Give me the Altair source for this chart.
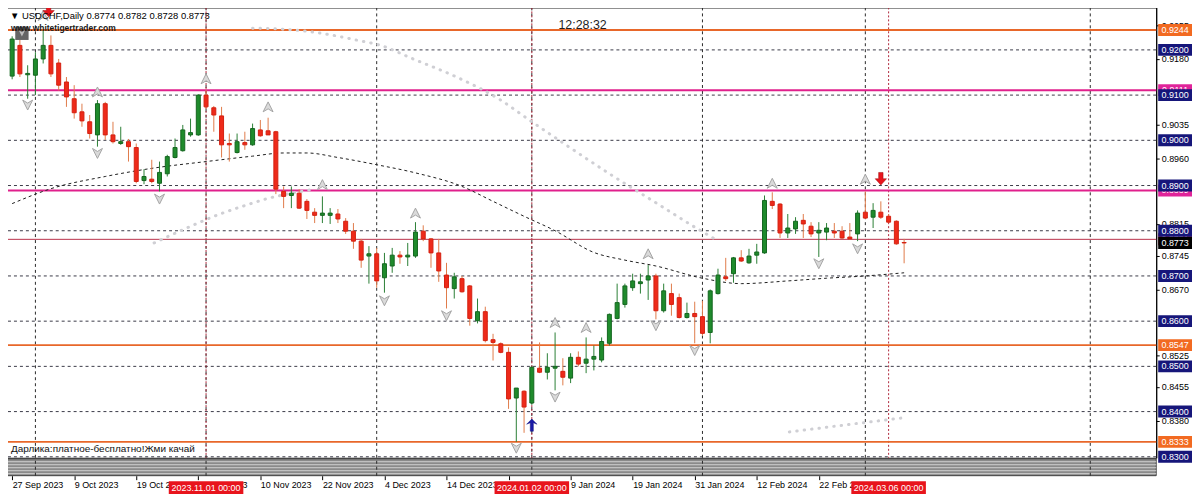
import altair as alt
import pandas as pd

# ------------------------------------------------------------------ data
header_text = "▼ USDCHF,Daily  0.8774 0.8782 0.8728 0.8773"
site_text = "www.whitetigertrader.com"
clock_text = "12:28:32"
promo_text = "Дарлика:платное-бесплатно!Жми качай"

opens = [0.9142, 0.9210, 0.9145, 0.9144, 0.9180, 0.9210, 0.9171, 0.9129, 0.9092, 0.9063,
         0.9041, 0.9012, 0.9081, 0.9012, 0.8993, 0.8997, 0.8984, 0.8911, 0.8914, 0.8905,
         0.8926, 0.8962, 0.8977, 0.9012, 0.9012, 0.9100, 0.9072, 0.9054, 0.8993, 0.8973,
         0.8995, 0.8990, 0.9023, 0.9021, 0.9019, 0.8887, 0.8878, 0.8883, 0.8865, 0.8841,
         0.8834, 0.8834, 0.8837, 0.8821, 0.8799, 0.8777, 0.8744, 0.8749, 0.8696, 0.8722,
         0.8746, 0.8742, 0.8744, 0.8799, 0.8782, 0.8751, 0.8702, 0.8672, 0.8694, 0.8678,
         0.8601, 0.8621, 0.8559, 0.8550, 0.8531, 0.8430, 0.8445, 0.8419, 0.8496, 0.8487,
         0.8496, 0.8489, 0.8474, 0.8520, 0.8507, 0.8516, 0.8514, 0.8551, 0.8606, 0.8637,
         0.8674, 0.8683, 0.8691, 0.8700, 0.8623, 0.8661, 0.8652, 0.8608, 0.8617, 0.8610,
         0.8575, 0.8661, 0.8698, 0.8705, 0.8740, 0.8729, 0.8746, 0.8751, 0.8865, 0.8859,
         0.8795, 0.8804, 0.8823, 0.8810, 0.8795, 0.8797, 0.8799, 0.8799, 0.8786, 0.8793,
         0.8841, 0.8830, 0.8841, 0.8832, 0.8821, 0.8774]
highs = [0.9230, 0.9222, 0.9166, 0.9195, 0.9244, 0.9232, 0.9180, 0.9140, 0.9122, 0.9081,
         0.9056, 0.9089, 0.9085, 0.9041, 0.9030, 0.9003, 0.8993, 0.8936, 0.8957, 0.8953,
         0.8968, 0.9004, 0.9034, 0.9048, 0.9102, 0.9112, 0.9076, 0.9074, 0.9015, 0.9015,
         0.9019, 0.9037, 0.9045, 0.9050, 0.9021, 0.8898, 0.8898, 0.8892, 0.8870, 0.8850,
         0.8876, 0.8850, 0.8848, 0.8828, 0.8817, 0.8782, 0.8766, 0.8762, 0.8751, 0.8762,
         0.8755, 0.8773, 0.8819, 0.8812, 0.8784, 0.8782, 0.8729, 0.8707, 0.8700, 0.8680,
         0.8650, 0.8632, 0.8572, 0.8553, 0.8542, 0.8452, 0.8447, 0.8500, 0.8553, 0.8529,
         0.8575, 0.8518, 0.8529, 0.8533, 0.8564, 0.8546, 0.8564, 0.8617, 0.8683, 0.8683,
         0.8705, 0.8705, 0.8724, 0.8705, 0.8683, 0.8683, 0.8661, 0.8641, 0.8643, 0.8645,
         0.8670, 0.8716, 0.8740, 0.8742, 0.8757, 0.8760, 0.8771, 0.8878, 0.8885, 0.8861,
         0.8837, 0.8830, 0.8837, 0.8819, 0.8819, 0.8817, 0.8817, 0.8810, 0.8817, 0.8845,
         0.8887, 0.8861, 0.8865, 0.8837, 0.8823, 0.8782]
lows = [0.9135, 0.9140, 0.9092, 0.9100, 0.9170, 0.9140, 0.9110, 0.9074, 0.9048, 0.9030,
        0.9004, 0.8986, 0.9001, 0.8993, 0.8990, 0.8953, 0.8905, 0.8903, 0.8905, 0.8887,
        0.8920, 0.8960, 0.8975, 0.9008, 0.9010, 0.9070, 0.9019, 0.8962, 0.8953, 0.8971,
        0.8979, 0.8988, 0.9008, 0.9012, 0.8881, 0.8850, 0.8850, 0.8848, 0.8826, 0.8817,
        0.8817, 0.8815, 0.8817, 0.8793, 0.8760, 0.8718, 0.8683, 0.8674, 0.8663, 0.8707,
        0.8727, 0.8722, 0.8740, 0.8777, 0.8718, 0.8687, 0.8628, 0.8650, 0.8663, 0.8590,
        0.8595, 0.8553, 0.8513, 0.8529, 0.8406, 0.8333, 0.8353, 0.8415, 0.8485, 0.8471,
        0.8447, 0.8458, 0.8463, 0.8500, 0.8485, 0.8491, 0.8509, 0.8546, 0.8604, 0.8630,
        0.8667, 0.8661, 0.8647, 0.8604, 0.8619, 0.8612, 0.8606, 0.8606, 0.8551, 0.8568,
        0.8551, 0.8659, 0.8689, 0.8685, 0.8731, 0.8727, 0.8727, 0.8749, 0.8848, 0.8784,
        0.8784, 0.8793, 0.8784, 0.8786, 0.8742, 0.8779, 0.8784, 0.8782, 0.8780, 0.8777,
        0.8826, 0.8806, 0.8826, 0.8817, 0.8769, 0.8728]
closes = [0.9224, 0.9147, 0.9148, 0.9180, 0.9210, 0.9147, 0.9122, 0.9096, 0.9061, 0.9043,
          0.9015, 0.9081, 0.9012, 0.8997, 0.8997, 0.8986, 0.8909, 0.8920, 0.8909, 0.8929,
          0.8964, 0.8984, 0.9023, 0.9017, 0.9100, 0.9074, 0.9056, 0.8990, 0.8990, 0.8997,
          0.8990, 0.9026, 0.9010, 0.9012, 0.8892, 0.8876, 0.8883, 0.8850, 0.8845, 0.8834,
          0.8839, 0.8839, 0.8826, 0.8799, 0.8777, 0.8735, 0.8749, 0.8689, 0.8727, 0.8746,
          0.8742, 0.8746, 0.8797, 0.8782, 0.8751, 0.8711, 0.8674, 0.8698, 0.8665, 0.8606,
          0.8621, 0.8557, 0.8553, 0.8531, 0.8428, 0.8452, 0.8410, 0.8498, 0.8487, 0.8498,
          0.8500, 0.8476, 0.8520, 0.8505, 0.8516, 0.8522, 0.8555, 0.8615, 0.8641, 0.8678,
          0.8689, 0.8687, 0.8700, 0.8623, 0.8667, 0.8637, 0.8608, 0.8617, 0.8610, 0.8573,
          0.8667, 0.8702, 0.8694, 0.8740, 0.8733, 0.8744, 0.8753, 0.8867, 0.8856, 0.8795,
          0.8806, 0.8821, 0.8815, 0.8793, 0.8801, 0.8806, 0.8795, 0.8784, 0.8782, 0.8839,
          0.8828, 0.8845, 0.8830, 0.8819, 0.8771, 0.8773]

tick_idx = [0, 8, 16, 24, 32, 40, 48, 56, 64, 72, 80, 88, 96, 104]
tick_labels = ["27 Sep 2023", "9 Oct 2023", "19 Oct 2023", "31 Oct 2023", "10 Nov 2023",
               "22 Nov 2023", "4 Dec 2023", "14 Dec 2023", "27 Dec 2023", "9 Jan 2024",
               "19 Jan 2024", "31 Jan 2024", "12 Feb 2024", "22 Feb 2024"]

grid_levels = [0.9200, 0.9100, 0.9000, 0.8900, 0.8800, 0.8700, 0.8600, 0.8500, 0.8400, 0.8300]
plain_levels = [0.9255, 0.9180, 0.9035, 0.8960, 0.8815, 0.8745, 0.8670, 0.8525, 0.8455, 0.8380]
month_idx = [3, 25, 47, 67, 89, 110, 139]
marked_idx = [25, 67, 113]
marked_labels = ["2023.11.01 00:00", "2024.01.02 00:00", "2024.03.06 00:00"]

orange_levels = [0.9244, 0.8547, 0.8333]
magenta_levels = [0.9111, 0.8889]
red_levels = [0.8781]
bid_levels = [0.8773]

ma_idx = [0, 5, 12, 18, 25, 31, 35, 38, 42, 47, 52, 58, 62, 66, 70, 75, 79, 83, 89, 94, 100, 105, 110, 115]
ma_val = [0.8860, 0.8893, 0.8920, 0.8938, 0.8953, 0.8965, 0.8972, 0.8972, 0.8962, 0.8946,
          0.8928, 0.8898, 0.8865, 0.8832, 0.8800, 0.8752, 0.8735, 0.8722, 0.8695, 0.8683,
          0.8689, 0.8695, 0.8700, 0.8707]

dotA_idx = [18.3, 22.5, 26.8, 29.7, 33.1, 37.3, 38.6]
dotA_val = [0.8773, 0.8806, 0.8837, 0.8854, 0.8872, 0.8887, 0.8891]
dotB_idx = [31.0, 34.8, 39.0, 44.6, 47.5, 51.7, 57.3, 62.7, 67.0, 71.3, 77.1, 82.7, 88.2, 91.1]
dotB_val = [0.9248, 0.9246, 0.9239, 0.9221, 0.9210, 0.9180, 0.9140, 0.9092, 0.9041, 0.8991,
            0.8925, 0.8865, 0.8806, 0.8777]
dotC_idx = [100.2, 107.2, 114.8]
dotC_val = [0.8355, 0.8370, 0.8386]

frac_up_idx = [4, 11, 25, 33, 40, 52, 70, 74, 82, 98, 110]
frac_up_val = [0.9276, 0.9107, 0.9136, 0.9074, 0.8902, 0.8839, 0.8597, 0.8586, 0.8749, 0.8905, 0.8914]
frac_dn_idx = [2, 11, 19, 48, 56, 65, 70, 83, 88, 104, 109]
frac_dn_val = [0.9078, 0.8971, 0.8870, 0.8645, 0.8612, 0.8319, 0.8432, 0.8590, 0.8535, 0.8727, 0.8760]

sell_idx = [4.7, 112]
sell_val = [0.9287, 0.8915]
buy_idx = [67]
buy_val = [0.8370]

# ------------------------------------------------------------------ layout
OX, OY = 5, 5          # absolute position of the plot's top-left corner
W, H = 1157, 453
SUB_TOP, SUB_BOT = 454, 471
STRIPES = [457, 460, 463, 466, 469]


def px(x):
    return x - OX


def py(y):
    return y - OY


FONT = "Liberation Sans"
xs = alt.Scale(domain=[-0.15, 146.86], nice=False, zero=False)
ys = alt.Scale(domain=[0.82978, 0.92939], nice=False, zero=False)

label_expr = "[" + ",".join("'" + t + "'" for t in tick_labels) + "][round(datum.value / 8)]"
x_axis = alt.Axis(orient="bottom", values=tick_idx, labelExpr=label_expr, offset=18,
                  domain=False, ticks=True, tickSize=4, tickColor="#000000",
                  labelAlign="left", labelBaseline="top", labelPadding=1,
                  labelFont=FONT, labelFontSize=9, labelColor="#000000",
                  labelFlush=False, labelOverlap=False, grid=False, title=None)
y_axis = alt.Axis(orient="right", values=plain_levels, format=".4f", grid=False,
                  domain=True, domainColor="#000000", tickSize=3, tickColor="#000000",
                  labelFont=FONT, labelFontSize=9, labelColor="#000000", labelPadding=2,
                  labelFlush=False, labelOverlap=False, title=None)


def X(field):
    return alt.X(field, scale=xs, axis=x_axis)


def Y(field):
    return alt.Y(field, scale=ys, axis=y_axis)


candles = pd.DataFrame({"idx": list(range(len(opens))), "o": opens, "h": highs,
                        "l": lows, "c": closes})
UP_COND = "datum.c >= datum.o"
one = pd.DataFrame({"k": [0]})

# ---- subwindow
sub_rect = alt.Chart(one).mark_rect(color="#8a8a8a", stroke="#404040", strokeWidth=1).encode(
    x=alt.value(0), x2=alt.value(W), y=alt.value(SUB_TOP), y2=alt.value(SUB_BOT))
sub_stripes = [alt.Chart(one).mark_rule(color="#d2d2d2", strokeWidth=1).encode(
    y=alt.value(s), x=alt.value(0), x2=alt.value(W)) for s in STRIPES]

# ---- grid
hgrid = alt.Chart(pd.DataFrame({"level": grid_levels})).mark_rule(
    color="#3a3a48", strokeDash=[3, 3], strokeWidth=1).encode(y=Y("level:Q"))
vgrid = alt.Chart(pd.DataFrame({"idx": month_idx})).mark_rule(
    color="#2a2a2a", strokeDash=[3, 3], strokeWidth=1).encode(
    x=X("idx:Q"), y=alt.value(0), y2=alt.value(SUB_BOT))
vmark = alt.Chart(pd.DataFrame({"idx": marked_idx})).mark_rule(
    color="#b0283c", strokeDash=[2, 2], strokeWidth=1).encode(
    x=X("idx:Q"), y=alt.value(0), y2=alt.value(H))


# ---- level lines
def hline(levels, color, width):
    return alt.Chart(pd.DataFrame({"level": levels})).mark_rule(
        color=color, strokeWidth=width).encode(y=Y("level:Q"))


orange_l = hline(orange_levels, "#e8672a", 2)
magenta_l = hline(magenta_levels, "#e0208c", 2)
red_l = hline(red_levels, "#b8304a", 1)

# ---- dotted gray curves
dots = pd.DataFrame({
    "idx": dotA_idx + dotB_idx + dotC_idx,
    "val": dotA_val + dotB_val + dotC_val,
    "seg": ["A"] * len(dotA_idx) + ["B"] * len(dotB_idx) + ["C"] * len(dotC_idx)})
dot_line = alt.Chart(dots).mark_line(color="#cfcfd4", strokeWidth=3, strokeDash=[0.5, 7],
                                      strokeCap="round", interpolate="monotone", clip=True).encode(
    x=X("idx:Q"), y=Y("val:Q"), detail="seg:N")

# ---- moving average
ma = alt.Chart(pd.DataFrame({"idx": ma_idx, "val": ma_val})).mark_line(
    color="#1e1e1e", strokeWidth=1, strokeDash=[3, 3], interpolate="monotone", clip=True).encode(
    x=X("idx:Q"), y=Y("val:Q"))

# ---- candles
wicks = alt.Chart(candles).mark_rule(strokeWidth=1, clip=True).encode(
    x=X("idx:Q"), y=Y("l:Q"), y2="h:Q",
    color=alt.condition(UP_COND, alt.value("#2a7f35"), alt.value("#e07b4a")))
bodies = alt.Chart(candles).mark_bar(size=4, strokeWidth=1, clip=True).encode(
    x=X("idx:Q"), y=Y("o:Q"), y2="c:Q",
    fill=alt.condition(UP_COND, alt.value("#1f8b2c"), alt.value("#ee2a1a")),
    stroke=alt.condition(UP_COND, alt.value("#14661f"), alt.value("#d42010")))

# ---- fractal markers & arrows
UP_HEAD = "M0,-1L1,1L0,0.4L-1,1Z"
DN_HEAD = "M0,1L1,-1L0,-0.4L-1,-1Z"
frac_up = alt.Chart(pd.DataFrame({"idx": frac_up_idx, "val": frac_up_val})).mark_point(
    shape=UP_HEAD, size=100, filled=True, fill="#dadada", stroke="#a4a4a4", strokeWidth=1,
    opacity=1, clip=True).encode(x=X("idx:Q"), y=Y("val:Q"))
frac_dn = alt.Chart(pd.DataFrame({"idx": frac_dn_idx, "val": frac_dn_val})).mark_point(
    shape=DN_HEAD, size=100, filled=True, fill="#dadada", stroke="#a4a4a4", strokeWidth=1,
    opacity=1, clip=True).encode(x=X("idx:Q"), y=Y("val:Q"))

SELL = "M-0.35,-1L0.35,-1L0.35,0L0.9,0L0,1L-0.9,0L-0.35,0Z"
BUY = "M0,-1L0.85,-0.15L0.25,-0.4L0.25,1L-0.25,1L-0.25,-0.4L-0.85,-0.15Z"
sell = alt.Chart(pd.DataFrame({"idx": sell_idx, "val": sell_val})).mark_point(
    shape=SELL, size=160, filled=True, fill="#e8141c", stroke="#9a0a0a", strokeWidth=0.5,
    opacity=1, clip=True).encode(x=X("idx:Q"), y=Y("val:Q"))
buy = alt.Chart(pd.DataFrame({"idx": buy_idx, "val": buy_val})).mark_point(
    shape=BUY, size=150, filled=True, fill="#1a1aa8", stroke="#10107a", strokeWidth=0.5,
    opacity=1, clip=True).encode(x=X("idx:Q"), y=Y("val:Q"))

# ---- texts
btn = alt.Chart(one).mark_point(shape="square", size=180, filled=True, color="#4a4a4a",
                                opacity=0.85).encode(x=alt.value(px(21)), y=alt.value(py(31)))
btn_v = alt.Chart(one).mark_point(shape=DN_HEAD, size=40, filled=True, color="#bdbdbd",
                                  opacity=1).encode(x=alt.value(px(21)), y=alt.value(py(31)))


def label(text, x, y, size, align="left", weight="normal", color="#000000"):
    return alt.Chart(pd.DataFrame({"t": [text]})).mark_text(
        align=align, baseline="middle", font=FONT, fontSize=size, fontWeight=weight,
        color=color).encode(x=alt.value(px(x)), y=alt.value(py(y)), text="t:N")


hdr = label(header_text, 9, 14, 9.5)
site = label(site_text, 10, 26, 8.5, weight="bold", color="#1a1a1a")
clock = label(clock_text, 585, 23, 12.5, align="center", color="#1e1e1e")
promo = label(promo_text, 10, 449, 10, color="#111111")

# ---- price label boxes (right scale)
BOX = "M-1,-0.353H1V0.353H-1Z"


def price_boxes(levels, color, text_color="#ffffff"):
    df = pd.DataFrame({"val": levels, "lab": ["%.4f" % v for v in levels]})
    box = alt.Chart(df).mark_point(shape=BOX, size=34 ** 2, filled=True, color=color,
                                   opacity=1, strokeWidth=0).encode(
        x=alt.value(px(1181)), y=Y("val:Q"))
    txt = alt.Chart(df).mark_text(font=FONT, fontSize=9, color=text_color, align="center",
                                  baseline="middle").encode(
        x=alt.value(px(1181)), y=Y("val:Q"), text="lab:N")
    return [box, txt]


pb = (price_boxes(orange_levels, "#f26a21") + price_boxes(magenta_levels, "#e0249a")
      + price_boxes(red_levels, "#b01c2c") + price_boxes(grid_levels, "#16167a")
      + price_boxes(bid_levels, "#000000"))

# ---- time label boxes
TBOX = "M-1,-0.1733H1V0.1733H-1Z"
tdf = pd.DataFrame({"idx": marked_idx, "lab": marked_labels})
tbox = alt.Chart(tdf).mark_point(shape=TBOX, size=75 ** 2, filled=True, color="#e8141c",
                                 opacity=1, strokeWidth=0).encode(
    x=X("idx:Q"), y=alt.value(py(488)))
ttxt = alt.Chart(tdf).mark_text(font=FONT, fontSize=9, color="#ffffff", align="center",
                                baseline="middle").encode(
    x=X("idx:Q"), y=alt.value(py(488)), text="lab:N")

chart = alt.layer(
    sub_rect, *sub_stripes, hgrid, vgrid, vmark, orange_l, magenta_l, red_l,
    dot_line, ma, wicks, bodies, frac_up, frac_dn, sell, buy,
    btn, site, btn_v, hdr, clock, promo, *pb, tbox, ttxt
).properties(
    width=W, height=H,
    padding={"left": -3, "top": -3, "right": 0, "bottom": 0},
    background="#ffffff"
).configure_view(stroke="#000000", strokeWidth=1)

chart.save("out.html", embed_options={"renderer": "svg", "actions": False})
